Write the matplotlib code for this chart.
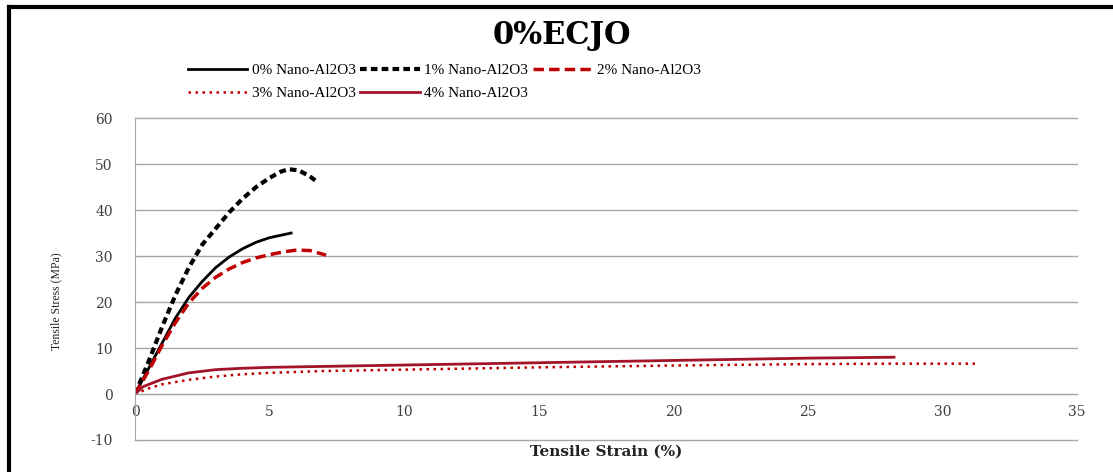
import matplotlib
matplotlib.use("Agg")
import matplotlib.pyplot as plt
from matplotlib.lines import Line2D

plt.rcParams["axes.unicode_minus"] = False

# === Data: tensile stress-strain curves, 0% ECJO ===
strain_0 = [0, 0.5, 1, 1.5, 2, 2.5, 3, 3.5, 4, 4.5, 5, 5.4, 5.8]
stress_0 = [0, 5.5, 11, 16.5, 21, 24.5, 27.5, 29.8, 31.6, 33, 34, 34.5, 35]

strain_1 = [0, 0.5, 1, 1.5, 2, 2.5, 3, 3.5, 4, 4.5, 5, 5.4, 5.7, 6.1, 6.5, 6.8]
stress_1 = [0, 7, 14.5, 21.5, 27.5, 32.5, 36, 39.5, 42.5, 45, 47, 48.3, 48.9, 48.6, 47.3, 46]

strain_2 = [0, 0.5, 1, 1.5, 2, 2.5, 3, 3.5, 4, 4.5, 5, 5.5, 6, 6.5, 7.1]
stress_2 = [0, 5, 10.5, 15.5, 19.8, 23, 25.4, 27.2, 28.6, 29.6, 30.3, 30.9, 31.3, 31.2, 30.2]

strain_3 = [0, 0.5, 1, 2, 3, 4, 5, 7, 10, 15, 20, 25, 28, 31.3]
stress_3 = [0, 1.2, 2.1, 3.1, 3.8, 4.3, 4.6, 5.0, 5.3, 5.8, 6.2, 6.5, 6.6, 6.6]

strain_4 = [0, 0.3, 1, 2, 3, 4, 5, 7, 10, 15, 20, 25, 28.2]
stress_4 = [0, 1.6, 3.2, 4.6, 5.3, 5.6, 5.8, 6.0, 6.3, 6.8, 7.3, 7.8, 8.0]

labels = ["0% Nano-Al2O3", "1% Nano-Al2O3", "2% Nano-Al2O3",
          "3% Nano-Al2O3", "4% Nano-Al2O3"]

x_ticks = [0, 5, 10, 15, 20, 25, 30, 35]
y_ticks = [-10, 0, 10, 20, 30, 40, 50, 60]

red = "#C00000"
dark_red = "#A3142A"
grid_grey = "#A6A6A6"

fig = plt.figure(figsize=(11.13, 4.72), dpi=100)
ax = fig.add_axes([0.1213, 0.0678, 0.8464, 0.682])

# horizontal gridlines at every major y tick
for yv in y_ticks:
    ax.axhline(yv, color=grid_grey, lw=1.0, zorder=0.5, clip_on=False)

h0, = ax.plot(strain_0, stress_0, color="black", lw=2.0, ls="-")
h1, = ax.plot(strain_1, stress_1, color="black", lw=3.0, ls=(0, (1.6, 1.0)))
h2, = ax.plot(strain_2, stress_2, color=red, lw=2.5, ls=(0, (3, 1.5)))
h3, = ax.plot(strain_3, stress_3, color=red, lw=1.8, ls=(0, (1, 1.8)))
h4, = ax.plot(strain_4, stress_4, color=dark_red, lw=2.0, ls="-")

ax.set_xlim(0, 35)
ax.set_ylim(-10, 60)
ax.set_xticks(x_ticks)
ax.set_yticks(y_ticks)

for s in ["top", "right"]:
    ax.spines[s].set_visible(False)
ax.spines["left"].set_color(grid_grey)
ax.spines["bottom"].set_position(("data", 0))
ax.spines["bottom"].set_color(grid_grey)
ax.tick_params(axis="both", length=0, labelcolor="#404040", labelsize=10)
ax.tick_params(axis="x", pad=8)
ax.tick_params(axis="y", pad=16)
for lab in ax.get_xticklabels() + ax.get_yticklabels():
    lab.set_family("DejaVu Serif")

ax.set_xlabel("Tensile Strain (%)", family="DejaVu Serif", fontweight="bold",
              fontsize=11, color="#222222")
ax.xaxis.set_label_coords(0.5, -0.015)
ax.set_ylabel("Tensile Stress (MPa)", family="Liberation Serif", fontsize=8.5,
              color="#222222")
ax.yaxis.set_label_coords(-0.077, 0.43)

fig.text(0.505, 0.925, "0%ECJO", family="DejaVu Serif", fontweight="bold",
         fontsize=22, ha="center", va="center")

# column-first ordering so rows read 0,1,2 / 3,4
order = [0, 3, 1, 4, 2]
handles = [h0, h1, h2, h3, h4]
fig.legend([handles[i] for i in order], [labels[i] for i in order],
           ncol=3, loc="upper left", bbox_to_anchor=(0.163, 0.878),
           frameon=False, prop={"family": "Liberation Serif", "size": 11},
           handlelength=3.9, handletextpad=0.3, columnspacing=0.3,
           labelspacing=0.6, borderaxespad=0)

# outer chart frame (top and left edges)
fig.add_artist(Line2D([0.0085, 1.0], [0.985, 0.985], transform=fig.transFigure,
                      color="black", lw=3))
fig.add_artist(Line2D([0.0085, 0.0085], [0.0, 0.985], transform=fig.transFigure,
                      color="black", lw=3))

fig.savefig("out.png", dpi=100)
